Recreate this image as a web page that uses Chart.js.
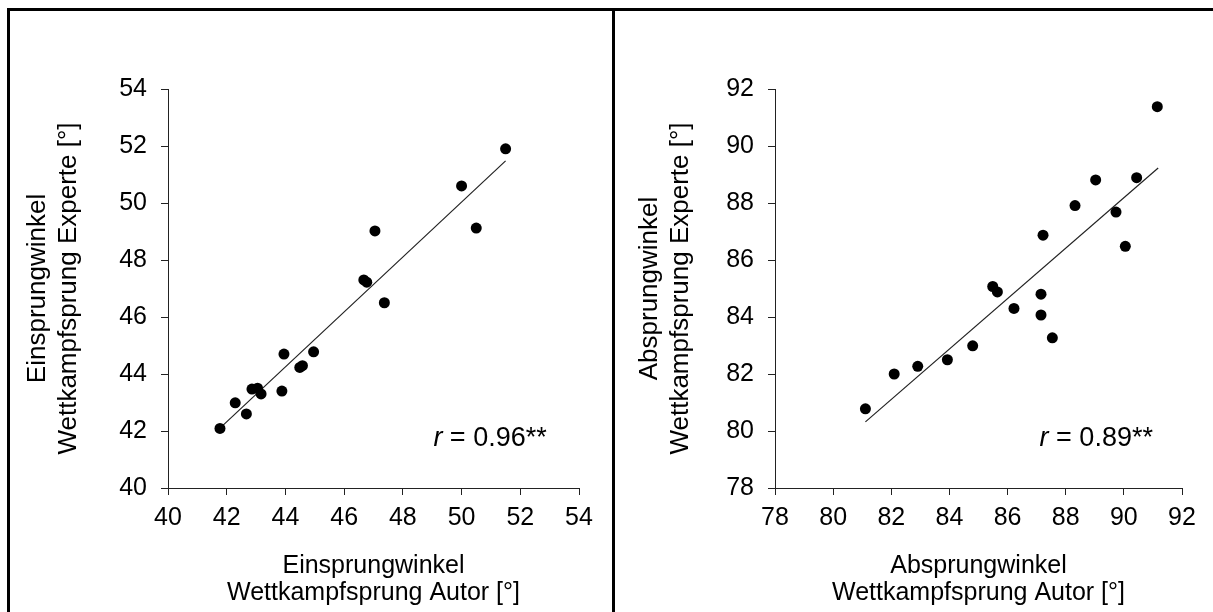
<!DOCTYPE html>
<html>
<head>
<meta charset="utf-8">
<script src="https://cdn.jsdelivr.net/npm/chart.js@4.4.0/dist/chart.umd.min.js"></script>
<style>
  html, body { margin: 0; padding: 0; background: #fff; overflow: hidden; }
  #wrap { position: relative; width: 1213px; height: 612px; }
  .panel { position: absolute; top: 0; height: 612px; }
  #left { left: 0; width: 612px; }
  #right { left: 612px; width: 601px; }
  .rule { position: absolute; background: #000; }
</style>
</head>
<body>
<div id="wrap">
  <div class="panel" id="left"><canvas id="einChart" width="612" height="612"></canvas></div>
  <div class="panel" id="right"><canvas id="abChart" width="601" height="612"></canvas></div>
  <div class="rule" style="left:7px;top:8px;width:1206px;height:3px"></div>
  <div class="rule" style="left:7px;top:8px;width:3px;height:604px"></div>
  <div class="rule" style="left:612px;top:8px;width:3px;height:604px"></div>
</div>
<script>
// Einsprungwinkel: Autor (x) vs Experte (y)
const einAutor   = [51.5, 50.0, 50.5, 47.05, 46.67, 46.77, 47.37, 43.95, 44.96, 44.49, 44.58, 43.88, 42.86, 43.05, 43.17, 42.29, 42.67, 41.77];
const einExperte = [51.9, 50.6, 49.12, 49.02, 47.3, 47.22, 46.5, 44.7, 44.78, 44.23, 44.29, 43.4, 43.47, 43.5, 43.3, 42.99, 42.6, 42.09];
const einTrendX  = [41.77, 51.5];
const einTrendY  = [42.1, 51.48];
const einAxis    = [40, 54];

// Absprungwinkel: Autor (x) vs Experte (y)
const abAutor   = [91.15, 90.44, 89.03, 88.32, 89.73, 90.05, 87.22, 85.49, 85.65, 87.15, 86.22, 87.15, 87.54, 84.8, 83.93, 82.91, 82.1, 81.11];
const abExperte = [91.38, 88.89, 88.81, 87.91, 87.68, 86.48, 86.87, 85.07, 84.88, 84.8, 84.3, 84.07, 83.27, 82.99, 82.5, 82.27, 82.0, 80.78];
const abTrendX  = [81.11, 91.18];
const abTrendY  = [80.32, 89.23];
const abAxis    = [78, 92];

const FONT = "'Liberation Sans', Arial, sans-serif";
Chart.defaults.font.family = FONT;
Chart.defaults.color = '#000';

const rLabel = {
  id: 'rLabel',
  afterDatasetsDraw(chart, args, opts) {
    const { ctx } = chart;
    const px = chart.scales.x.getPixelForValue(opts.x);
    const py = chart.scales.y.getPixelForValue(opts.y);
    const rest = ' = ' + opts.value + '**';
    ctx.save();
    ctx.fillStyle = '#000';
    ctx.textBaseline = 'middle';
    ctx.textAlign = 'left';
    ctx.font = opts.size + 'px ' + FONT;
    const restW = ctx.measureText(rest).width;
    ctx.font = 'italic ' + opts.size + 'px ' + FONT;
    const rW = ctx.measureText('r').width;
    const start = px - restW - rW;
    ctx.fillText('r', start, py);
    ctx.font = opts.size + 'px ' + FONT;
    ctx.fillText(rest, start + rW, py);
    ctx.restore();
  }
};

function pointsOf(xs, ys) {
  return xs.map((v, i) => ({ x: v, y: ys[i] }));
}

function makeChart(id, cfg) {
  const ctx = document.getElementById(id).getContext('2d');
  const axisLine = { display: true, color: '#222', width: 1 };
  const grid = { display: true, drawOnChartArea: false, drawTicks: true, tickLength: 7, color: '#222' };

  return new Chart(ctx, {
    type: 'scatter',
    data: {
      datasets: [{
        data: pointsOf(cfg.xs, cfg.ys),
        backgroundColor: '#000',
        borderColor: '#000',
        pointRadius: 5.5,
        pointBorderWidth: 0
      }, {
        data: pointsOf(cfg.trendX, cfg.trendY),
        showLine: true,
        borderColor: '#222',
        borderWidth: 1.2,
        pointRadius: 0,
        fill: false
      }]
    },
    options: {
      responsive: false,
      animation: false,
      events: [],
      layout: { padding: { left: 0, top: 89, right: cfg.padRight, bottom: 0 } },
      plugins: {
        legend: { display: false },
        tooltip: { enabled: false },
        rLabel: { x: cfg.rx, y: cfg.ry, value: cfg.r, size: 27 }
      },
      scales: {
        x: {
          type: 'linear',
          min: cfg.axis[0],
          max: cfg.axis[1],
          border: axisLine,
          grid: grid,
          ticks: { stepSize: 2, padding: 8, font: { size: 25 }, color: '#000' },
          title: {
            display: true,
            text: cfg.xTitle,
            font: { size: 25, lineHeight: '27px' },
            padding: { top: 0, bottom: 5 },
            color: '#000'
          },
          afterFit: function (scale) { scale.height = 124; }
        },
        y: {
          type: 'linear',
          min: cfg.axis[0],
          max: cfg.axis[1],
          border: axisLine,
          grid: grid,
          ticks: { stepSize: 2, padding: 14, font: { size: 25 }, color: '#000' },
          title: {
            display: true,
            text: cfg.yTitle,
            font: { size: 26, lineHeight: '31px' },
            padding: { top: cfg.yTitlePad, bottom: 0 },
            color: '#000'
          },
          afterFit: function (scale) { scale.width = cfg.yWidth; }
        }
      }
    },
    plugins: [rLabel]
  });
}

makeChart('einChart', {
  xs: einAutor, ys: einExperte, trendX: einTrendX, trendY: einTrendY, axis: einAxis,
  xTitle: ['Einsprungwinkel', 'Wettkampfsprung Autor [°]'],
  yTitle: ['Einsprungwinkel', 'Wettkampfsprung Experte [°]'],
  yWidth: 168, padRight: 33, yTitlePad: 22,
  r: '0.96', rx: 52.9, ry: 41.75
});

makeChart('abChart', {
  xs: abAutor, ys: abExperte, trendX: abTrendX, trendY: abTrendY, axis: abAxis,
  xTitle: ['Absprungwinkel', 'Wettkampfsprung Autor [°]'],
  yTitle: ['Absprungwinkel', 'Wettkampfsprung Experte [°]'],
  yWidth: 163, padRight: 31, yTitlePad: 22,
  r: '0.89', rx: 91.0, ry: 79.72
});
</script>
</body>
</html>
